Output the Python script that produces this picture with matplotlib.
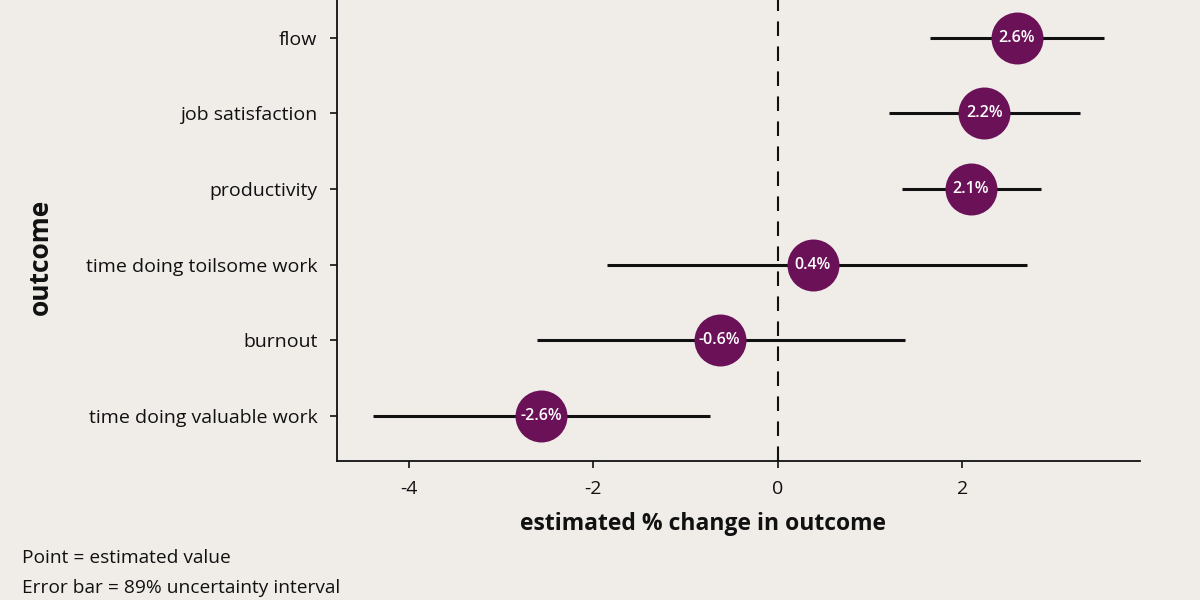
import matplotlib.pyplot as plt
import numpy as np

plt.rcParams['font.family'] = ['Open Sans', 'DejaVu Sans']
plt.rcParams['axes.unicode_minus'] = False

# outcomes from top to bottom
outcomes = ["flow", "job satisfaction", "productivity", "time doing toilsome work",
            "burnout", "time doing valuable work"]
estimate = np.array([2.59, 2.24, 2.09, 0.38, -0.63, -2.56])
lower = np.array([1.65, 1.21, 1.35, -1.85, -2.61, -4.38])
upper = np.array([3.54, 3.27, 2.85, 2.70, 1.38, -0.73])
labels = ["2.6%", "2.2%", "2.1%", "0.4%", "-0.6%", "-2.6%"]

bg = '#f0ede9'
purple = '#6b1158'

fig = plt.figure(figsize=(12, 6), dpi=100, facecolor=bg)
ax = fig.add_axes([0.2806, 0.2317, 0.6694, 0.7805])
ax.set_facecolor(bg)

ypos = np.arange(len(outcomes))[::-1]

ax.axvline(0, color='#111111', lw=1.5, ls=(0, (7, 5)), zorder=1)
ax.hlines(ypos, lower, upper, color='#111111', lw=2.2, zorder=2)
ax.scatter(estimate, ypos, s=1400, color=purple, zorder=3, linewidths=0)
for x, y, t in zip(estimate, ypos, labels):
    ax.text(x, y, t, color='white', fontsize=11.5, fontweight='semibold',
            ha='center', va='center', zorder=4)

ax.set_xlim(-4.778, 3.925)
ax.set_ylim(-0.595, 5.595)
ax.set_xticks([-4, -2, 0, 2])
ax.set_yticks(ypos)
ax.set_yticklabels(outcomes)
ax.tick_params(labelsize=14, length=5, width=1.2, color='#111111', labelcolor='#111111', pad=9)

for s in ['top', 'right']:
    ax.spines[s].set_visible(False)
for s in ['left', 'bottom']:
    ax.spines[s].set_linewidth(1.3)
    ax.spines[s].set_color('#111111')

ax.set_xlabel("estimated % change in outcome", fontsize=16.5, fontweight='bold',
              color='#111111')
ax.xaxis.set_label_coords(0.456, -0.108)
ax.set_ylabel("outcome", fontsize=19, fontweight='bold', color='#111111')
ax.yaxis.set_label_coords(-0.352, 0.436)

fig.text(0.018, 0.07, "Point = estimated value", fontsize=13.8, color='#111111', va='center')
fig.text(0.018, 0.02, "Error bar = 89% uncertainty interval", fontsize=13.8, color='#111111', va='center')

fig.savefig('out.png', dpi=100, facecolor=bg)
